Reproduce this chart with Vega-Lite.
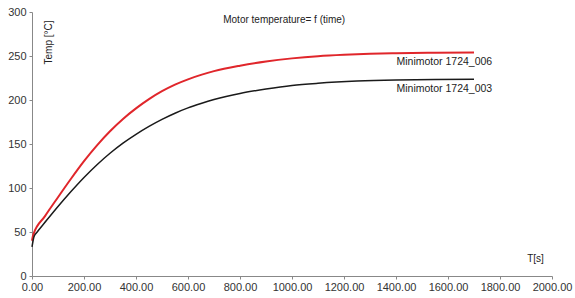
{
  "$schema": "https://vega.github.io/schema/vega-lite/v6.json",
  "width": 520,
  "height": 264,
  "autosize": "none",
  "padding": {"left": 32, "top": 12, "right": 23, "bottom": 22},
  "background": "white",
  "config": {
    "view": {"stroke": null},
    "font": "Liberation Sans",
    "axis": {
      "grid": false,
      "domainColor": "#888888",
      "tickColor": "#888888",
      "tickSize": 3,
      "labelColor": "#333333",
      "labelFontSize": 11,
      "labelFont": "Liberation Sans",
      "titleFont": "Liberation Sans",
      "titleFontWeight": "normal",
      "titleColor": "#222222",
      "titleFontSize": 10
    }
  },
  "datasets": {
    "curves": [
      {"motor": "Minimotor 1724_006", "T": 0, "temp": 40},
      {"motor": "Minimotor 1724_006", "T": 5, "temp": 47},
      {"motor": "Minimotor 1724_006", "T": 50, "temp": 68},
      {"motor": "Minimotor 1724_006", "T": 100, "temp": 89.5},
      {"motor": "Minimotor 1724_006", "T": 150, "temp": 110.5},
      {"motor": "Minimotor 1724_006", "T": 200, "temp": 130.5},
      {"motor": "Minimotor 1724_006", "T": 250, "temp": 148.5},
      {"motor": "Minimotor 1724_006", "T": 300, "temp": 164.5},
      {"motor": "Minimotor 1724_006", "T": 350, "temp": 178.5},
      {"motor": "Minimotor 1724_006", "T": 400, "temp": 190.5},
      {"motor": "Minimotor 1724_006", "T": 450, "temp": 201},
      {"motor": "Minimotor 1724_006", "T": 500, "temp": 210},
      {"motor": "Minimotor 1724_006", "T": 550, "temp": 217.5},
      {"motor": "Minimotor 1724_006", "T": 600, "temp": 223.5},
      {"motor": "Minimotor 1724_006", "T": 650, "temp": 228.5},
      {"motor": "Minimotor 1724_006", "T": 700, "temp": 232.8},
      {"motor": "Minimotor 1724_006", "T": 800, "temp": 239},
      {"motor": "Minimotor 1724_006", "T": 900, "temp": 243.8},
      {"motor": "Minimotor 1724_006", "T": 1000, "temp": 247.3},
      {"motor": "Minimotor 1724_006", "T": 1100, "temp": 249.8},
      {"motor": "Minimotor 1724_006", "T": 1200, "temp": 251.4},
      {"motor": "Minimotor 1724_006", "T": 1300, "temp": 252.5},
      {"motor": "Minimotor 1724_006", "T": 1400, "temp": 253.2},
      {"motor": "Minimotor 1724_006", "T": 1550, "temp": 253.7},
      {"motor": "Minimotor 1724_006", "T": 1700, "temp": 254},
      {"motor": "Minimotor 1724_003", "T": 0, "temp": 33},
      {"motor": "Minimotor 1724_003", "T": 8, "temp": 45},
      {"motor": "Minimotor 1724_003", "T": 20, "temp": 50},
      {"motor": "Minimotor 1724_003", "T": 50, "temp": 61},
      {"motor": "Minimotor 1724_003", "T": 100, "temp": 79},
      {"motor": "Minimotor 1724_003", "T": 150, "temp": 96},
      {"motor": "Minimotor 1724_003", "T": 200, "temp": 112},
      {"motor": "Minimotor 1724_003", "T": 250, "temp": 126.5},
      {"motor": "Minimotor 1724_003", "T": 300, "temp": 139.5},
      {"motor": "Minimotor 1724_003", "T": 350, "temp": 151},
      {"motor": "Minimotor 1724_003", "T": 400, "temp": 161},
      {"motor": "Minimotor 1724_003", "T": 450, "temp": 170},
      {"motor": "Minimotor 1724_003", "T": 500, "temp": 178},
      {"motor": "Minimotor 1724_003", "T": 550, "temp": 185},
      {"motor": "Minimotor 1724_003", "T": 600, "temp": 191},
      {"motor": "Minimotor 1724_003", "T": 650, "temp": 196},
      {"motor": "Minimotor 1724_003", "T": 700, "temp": 200.5},
      {"motor": "Minimotor 1724_003", "T": 800, "temp": 207.5},
      {"motor": "Minimotor 1724_003", "T": 900, "temp": 212.5},
      {"motor": "Minimotor 1724_003", "T": 1000, "temp": 216.5},
      {"motor": "Minimotor 1724_003", "T": 1100, "temp": 219},
      {"motor": "Minimotor 1724_003", "T": 1250, "temp": 221.5},
      {"motor": "Minimotor 1724_003", "T": 1400, "temp": 222.8},
      {"motor": "Minimotor 1724_003", "T": 1550, "temp": 223.4},
      {"motor": "Minimotor 1724_003", "T": 1700, "temp": 223.6}
    ],
    "labels": [
      {"text": "Minimotor 1724_006", "T": 1770, "temp": 243},
      {"text": "Minimotor 1724_003", "T": 1770, "temp": 213}
    ],
    "title": [
      {"text": "Motor temperature= f (time)", "T": 970, "temp": 291}
    ]
  },
  "layer": [
    {
      "data": {"name": "curves"},
      "mark": {"type": "line", "interpolate": "monotone"},
      "encoding": {
        "x": {
          "field": "T", "type": "quantitative",
          "scale": {"domain": [0, 2000], "nice": false, "zero": false},
          "axis": {
            "values": [0, 200, 400, 600, 800, 1000, 1200, 1400, 1600, 1800, 2000],
            "format": ".2f",
            "labelPadding": 2,
            "labelOverlap": false,
            "labelBound": false,
            "labelFlush": false,
            "title": "T[s]",
            "titleX": 503,
            "titleY": -18,
            "titleAlign": "center",
            "titleBaseline": "middle"
          }
        },
        "y": {
          "field": "temp", "type": "quantitative",
          "scale": {"domain": [0, 300], "nice": false},
          "axis": {
            "values": [0, 50, 100, 150, 200, 250, 300],
            "labelPadding": 3,
            "title": "Temp [°C]",
            "titleAngle": -90,
            "titleX": 19,
            "titleY": 8,
            "titleAlign": "right",
            "titleBaseline": "alphabetic"
          }
        },
        "color": {
          "field": "motor", "type": "nominal",
          "scale": {"domain": ["Minimotor 1724_006", "Minimotor 1724_003"], "range": ["#e0262b", "#1a1a1a"]},
          "legend": null
        },
        "strokeWidth": {
          "field": "motor", "type": "nominal",
          "scale": {"domain": ["Minimotor 1724_006", "Minimotor 1724_003"], "range": [2, 1.5]},
          "legend": null
        }
      }
    },
    {
      "data": {"name": "labels"},
      "mark": {"type": "text", "align": "right", "baseline": "middle", "fontSize": 10.5, "color": "#222222"},
      "encoding": {
        "x": {"field": "T", "type": "quantitative"},
        "y": {"field": "temp", "type": "quantitative"},
        "text": {"field": "text"}
      }
    },
    {
      "data": {"name": "title"},
      "mark": {"type": "text", "align": "center", "baseline": "middle", "fontSize": 10, "color": "#222222"},
      "encoding": {
        "x": {"field": "T", "type": "quantitative"},
        "y": {"field": "temp", "type": "quantitative"},
        "text": {"field": "text"}
      }
    }
  ]
}
